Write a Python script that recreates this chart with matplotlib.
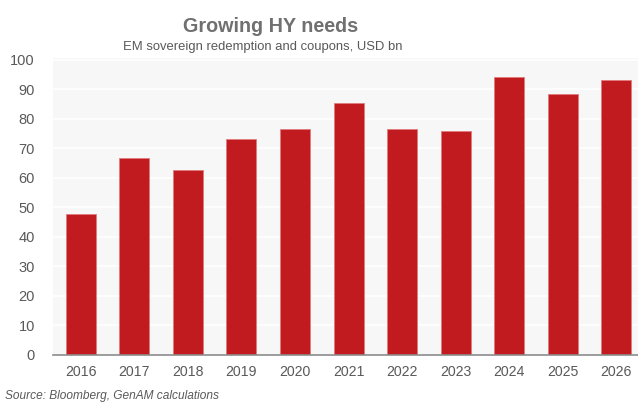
import matplotlib.pyplot as plt
import numpy as np

years = ["2016", "2017", "2018", "2019", "2020", "2021", "2022", "2023", "2024", "2025", "2026"]
values = [47.7, 66.7, 62.7, 73.1, 76.4, 85.3, 76.4, 75.8, 94.2, 88.4, 93.2]
y_ticks = [0, 10, 20, 30, 40, 50, 60, 70, 80, 90, 100]

plt.rcParams['font.family'] = ['Liberation Sans', 'DejaVu Sans']
text_col = "#595959"

fig = plt.figure(figsize=(6.38, 4.03), dpi=100)
ax = fig.add_axes([53 / 638, 1 - 355 / 403, (637.7 - 53) / 638, (355 - 58) / 403])
ax.set_facecolor("#f7f7f7")

x = np.arange(len(years))
ax.bar(x, values, width=0.56, color="#c21b1f", edgecolor="#e07a7c", linewidth=0.6, zorder=3)

ax.set_xlim(-0.52, 10.4)
ax.set_ylim(0, 100.6)
ax.set_yticks(y_ticks)
ax.set_xticks(x)
ax.set_xticklabels(years)
ax.grid(axis="y", color="white", linewidth=1.2, zorder=1)
ax.tick_params(axis="both", length=0, labelsize=10.5, colors=text_col)
ax.tick_params(axis="x", labelsize=10.2, pad=7)
ax.tick_params(axis="y", pad=13)
for s in ["top", "right", "left"]:
    ax.spines[s].set_visible(False)
ax.spines["bottom"].set_color("#8c8c8c")
ax.spines["bottom"].set_linewidth(1.2)
ax.spines["bottom"].set_zorder(4)

fig.text(271 / 638, 1 - 26 / 403, "Growing HY needs", ha="center", va="center",
         fontsize=14.2, fontweight="bold", color="#707070")
fig.text(263 / 638, 1 - 47 / 403, "EM sovereign redemption and coupons, USD bn", ha="center", va="center",
         fontsize=9.4, color=text_col)
fig.text(5 / 638, 1 - 396 / 403, "Source: Bloomberg, GenAM calculations", ha="left", va="center",
         fontsize=8.6, style="italic", color=text_col)

fig.savefig("out.png", dpi=100)
